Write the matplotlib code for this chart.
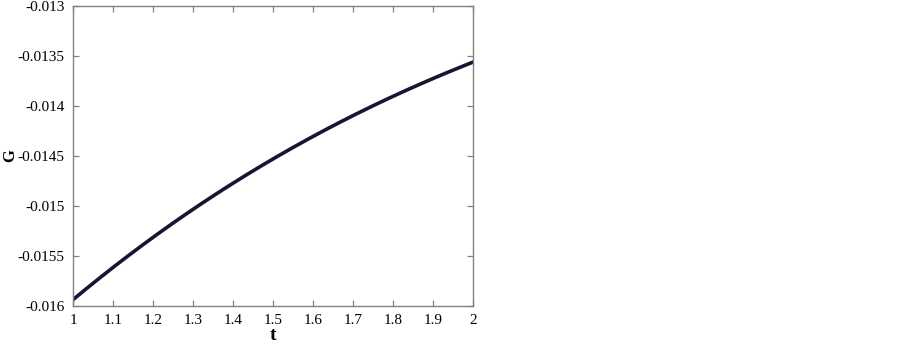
import numpy as np
import matplotlib
matplotlib.use('Agg')
import matplotlib.pyplot as plt

# values
t_vals = [1.0, 1.1, 1.2, 1.3, 1.4, 1.5, 1.6, 1.7, 1.8, 1.9, 2.0]
g_vals = [-0.01594, -0.01561, -0.01531, -0.01504, -0.01477, -0.01453,
          -0.01431, -0.01409, -0.01390, -0.01373, -0.01356]

x_ticks = [1, 1.1, 1.2, 1.3, 1.4, 1.5, 1.6, 1.7, 1.8, 1.9, 2]
x_labels = ['1', '1.1', '1.2', '1.3', '1.4', '1.5', '1.6', '1.7', '1.8', '1.9', '2']
y_ticks = [-0.016, -0.0155, -0.015, -0.0145, -0.014, -0.0135, -0.013]
y_labels = ['-0.016', '-0.0155', '-0.015', '-0.0145', '-0.014', '-0.0135', '-0.013']

plt.rcParams['font.family'] = ['Liberation Serif', 'DejaVu Serif']

fig = plt.figure(figsize=(9.02, 3.47), dpi=100)
ax = fig.add_axes([73 / 902, 1 - 306 / 347, 400 / 902, 300 / 347])

# smooth the read points with a cubic fit for drawing
coef = np.polyfit(t_vals, g_vals, 3)
tt = np.linspace(1, 2, 200)
ax.plot(tt, np.polyval(coef, tt), color='#161633', linewidth=2.6)

ax.set_xlim(1, 2)
ax.set_ylim(-0.016, -0.013)
ax.set_xticks(x_ticks)
ax.set_xticklabels(x_labels)
ax.set_yticks(y_ticks)
ax.set_yticklabels(y_labels)

spine_col = '#8a7f7a'
for s in ax.spines.values():
    s.set_color(spine_col)
    s.set_linewidth(1.0)
ax.tick_params(direction='in', top=True, right=True, length=4, width=0.9,
               color=spine_col, labelsize=11, pad=6, labelcolor='black')

ax.set_xlabel('t', fontsize=14, fontweight='bold', labelpad=0)
ax.set_ylabel('G', fontsize=12, fontweight='bold')
ax.yaxis.set_label_coords(-0.137, 0.5)

fig.savefig('out.png', dpi=100)
